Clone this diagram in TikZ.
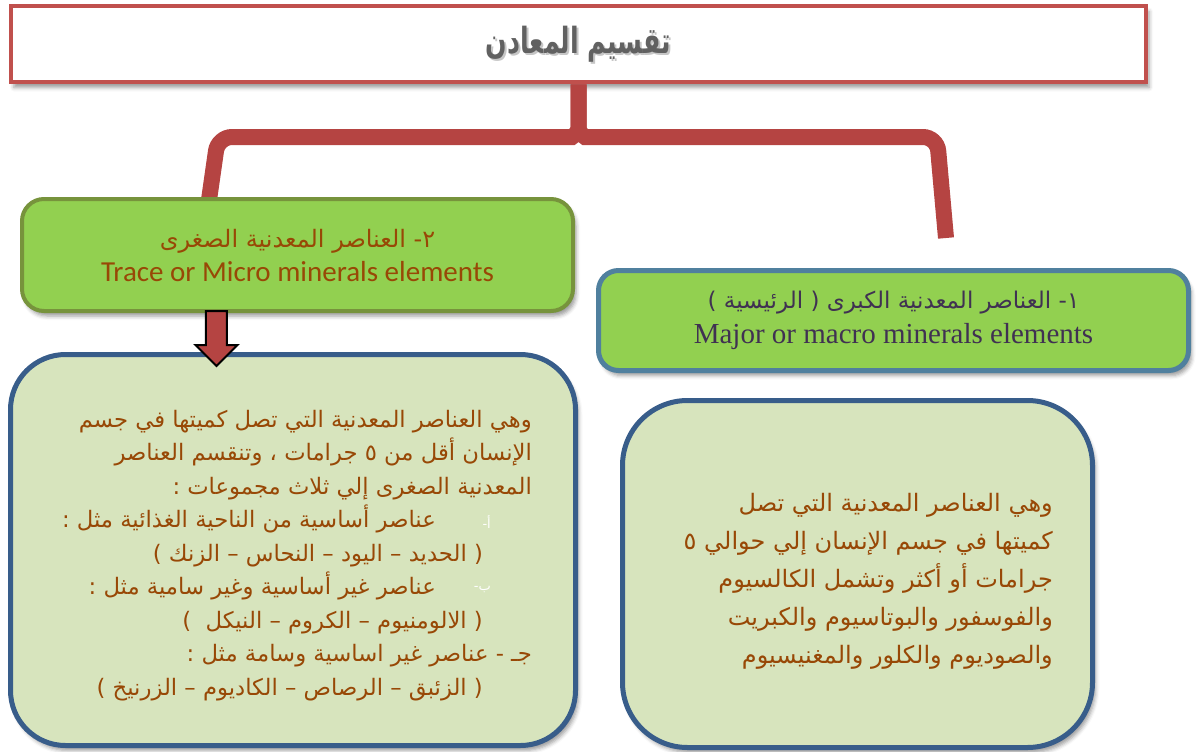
\documentclass[tikz,border=0pt]{standalone}
\usepackage{fontspec}
\usetikzlibrary{calc,shadows.blur}
\newfontfamily\arabicfont[Script=Arabic]{DejaVu Sans}
\newfontfamily\calibrifont{Carlito}
\newfontfamily\timesfont{Liberation Serif}
\TeXXeTstate=1
\newcommand\artext[1]{\hbox{\beginR #1\endR}}
\definecolor{titleRed}{RGB}{192,80,77}
\definecolor{braceRed}{RGB}{181,68,66}
\definecolor{leafGreen}{RGB}{146,208,80}
\definecolor{oliveEdge}{RGB}{119,147,60}
\definecolor{tealEdge}{RGB}{80,128,158}
\definecolor{paleGreen}{RGB}{215,228,189}
\definecolor{navyEdge}{RGB}{56,93,138}
\definecolor{rustText}{RGB}{152,72,6}
\definecolor{plumText}{RGB}{64,49,82}
\begin{document}
\begin{tikzpicture}[x=1pt, y=-1pt,
  softShadow/.style={blur shadow={shadow xshift=3pt, shadow yshift=-5pt, shadow blur radius=4pt, shadow opacity=40}},
  headBox/.style={draw=titleRed, line width=4pt, fill=white, minimum width=1135pt, minimum height=76pt},
  leafBox/.style={fill=leafGreen, line width=4pt, rounded corners=22pt, align=center},
  bodyBox/.style={fill=paleGreen, draw=navyEdge, line width=5pt},
  bodyText/.style={inner sep=0pt, align=right, text=rustText},
  listMark/.style={inner sep=0pt, anchor=east, text=white, font=\arabicfont\fontsize{13}{13}\selectfont},
  braceLine/.style={draw=braceRed, line width=16pt, rounded corners=14pt},
  downArrow/.style={fill=braceRed, draw=black, line width=2pt, line join=miter}]
  \useasboundingbox (0,0) rectangle (1200,752);

  \node[headBox, softShadow] (title) at (578.5,44.5) {};
  \node[text=gray!45, font=\arabicfont\bfseries\fontsize{30}{36}\selectfont]
    (titleShade) at ([shift={(2pt,-2pt)}]title.center) {\scalebox{0.84}[1.2]{\artext{تقسيم المعادن}}};
  \node[text=black!62, font=\arabicfont\bfseries\fontsize{30}{36}\selectfont]
    (titleText) at (title.center) {\scalebox{0.84}[1.2]{\artext{تقسيم المعادن}}};

  \coordinate (microTop) at (209,200);
  \coordinate (macroTip) at (946,238);
  \draw[braceLine] (title.south) -- ++(0,30) .. controls ++(0,18) and ++(14,0) .. (558,137)
    -- (218,137) -- (microTop);
  \draw[braceLine] (title.south) -- ++(0,30) .. controls ++(0,18) and ++(-14,0) .. (599,137)
    -- (937,137) -- (macroTip);

  \node[leafBox, draw=oliveEdge, softShadow, minimum width=551pt, minimum height=112pt,
    text=rustText, font=\calibrifont\fontsize{29}{34}\selectfont] (microBox) at (297.5,255)
    {{\arabicfont\fontsize{24}{34}\selectfont\artext{٢- العناصر المعدنية الصغرى}}\\
     Trace or Micro minerals elements};
  \node[leafBox, draw=tealEdge, line width=5pt, rounded corners=20pt, softShadow,
    minimum width=590pt, minimum height=100pt,
    text=plumText, font=\timesfont\fontsize{29}{35}\selectfont] (macroBox) at (893.5,320.5)
    {{\arabicfont\fontsize{23}{35}\selectfont\artext{١- العناصر المعدنية الكبرى ( الرئيسية )}}\\
     Major or macro minerals elements};

  \node[bodyBox, softShadow, rounded corners=55pt, minimum width=565pt, minimum height=391pt]
    (microBody) at (293,550) {};
  \node[bodyBox, softShadow, rounded corners=65pt, minimum width=470pt, minimum height=347pt]
    (macroBody) at (857.5,574) {};

  \coordinate (arrowTop) at ($(microBox.south west)!0.354!(microBox.south east)$);
  \draw[downArrow] ([shift={(-10.5,-2)}]arrowTop) -- ++(21,0) -- ++(0,34) -- ++(10.5,0)
    -- ++(-21,21) -- ++(-21,-21) -- ++(10.5,0) -- cycle;

  \node[bodyText, anchor=north east, font=\arabicfont\fontsize{22.7}{33.5}\selectfont]
    (microText) at (532,410) {%
    \artext{وهي العناصر المعدنية التي تصل كميتها في جسم}\\
    \artext{الإنسان أقل من ٥ جرامات ، وتنقسم العناصر}\\
    \artext{المعدنية الصغرى إلي ثلاث مجموعات :}\\
    \artext{\hspace*{96pt}عناصر أساسية من الناحية الغذائية مثل :}\\
    \artext{\hspace*{49pt}( الحديد – اليود – النحاس – الزنك )}\\
    \artext{\hspace*{96pt}عناصر غير أساسية وغير سامية مثل :}\\
    \artext{\hspace*{49pt}( الالومنيوم – الكروم – النيكل \ )}\\
    \artext{جـ - عناصر غير اساسية وسامة مثل :}\\
    \artext{\hspace*{49pt}( الزئبق – الرصاص – الكاديوم – الزرنيخ )}};
  \node[listMark] (markA) at (491,522) {\artext{أ-}};
  \node[listMark] (markB) at (491,589) {\artext{ب-}};

  \node[bodyText, anchor=north east, font=\arabicfont\fontsize{24}{38}\selectfont]
    (macroText) at (1053,493) {%
    \artext{وهي العناصر المعدنية التي تصل}\\
    \artext{كميتها في جسم الإنسان إلي حوالي ٥}\\
    \artext{جرامات أو أكثر وتشمل الكالسيوم}\\
    \artext{والفوسفور والبوتاسيوم والكبريت}\\
    \artext{والصوديوم والكلور والمغنيسيوم}};
\end{tikzpicture}
\end{document}
